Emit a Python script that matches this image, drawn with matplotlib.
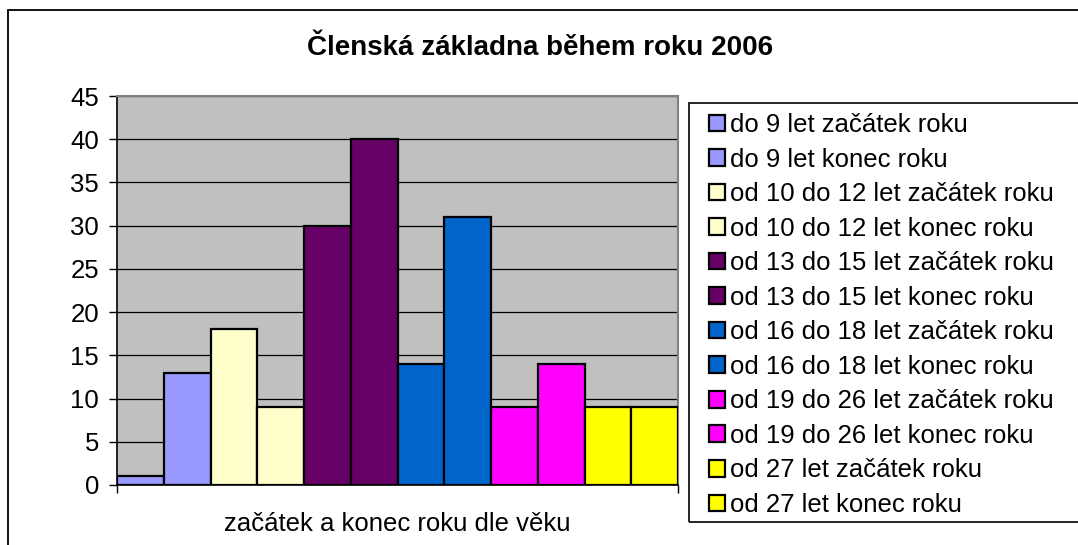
import matplotlib
matplotlib.use("Agg")
import matplotlib.pyplot as plt
from matplotlib.patches import Rectangle

plt.rcParams['font.family'] = ['Liberation Sans', 'DejaVu Sans']

series = ["do 9 let začátek roku", "do 9 let konec roku",
          "od 10 do 12 let začátek roku", "od 10 do 12 let konec roku",
          "od 13 do 15 let začátek roku", "od 13 do 15 let konec roku",
          "od 16 do 18 let začátek roku", "od 16 do 18 let konec roku",
          "od 19 do 26 let začátek roku", "od 19 do 26 let konec roku",
          "od 27 let začátek roku", "od 27 let konec roku"]
values = [1, 13, 18, 9, 30, 40, 14, 31, 9, 14, 9, 9]
colors = ["#9999FF", "#9999FF", "#FFFFCC", "#FFFFCC", "#660066", "#660066",
          "#0066CC", "#0066CC", "#FF00FF", "#FF00FF", "#FFFF00", "#FFFF00"]
yticks = [0, 5, 10, 15, 20, 25, 30, 35, 40, 45]
title = "Členská základna během roku 2006"
xlabel = "začátek a konec roku dle věku"

W, H = 1078, 545
FS = 18.5
fig = plt.figure(figsize=(W / 100, H / 100), dpi=100)
fig.patch.set_facecolor("white")

# outer chart frame
fig.add_artist(Rectangle((8 / W, -0.01), 1.2, 1 - 10 / H + 0.01, transform=fig.transFigure,
                         fill=False, edgecolor="black", lw=1.3))

ax = fig.add_axes([117 / W, 1 - 485 / H, (678 - 117) / W, (485 - 96) / H])
ax.set_facecolor("#C0C0C0")
handles = []
for i, (v, c, s) in enumerate(zip(values, colors, series)):
    b = ax.bar(i, v, width=1.0, color=c, edgecolor="black", linewidth=1.6, label=s, zorder=3)
    handles.append(b[0])
ax.set_xlim(-0.5, 11.5)
ax.set_ylim(0, 45)
ax.set_yticks(yticks)
ax.yaxis.grid(True, color="black", linewidth=0.9, zorder=1)
ax.set_xticks([-0.5, 11.5])
ax.set_xticklabels(["", ""])
ax.tick_params(axis="x", length=6, width=1, color="black", direction="out")
ax.tick_params(axis="y", length=6, width=1, labelsize=FS, pad=7)
for side in ["top", "right"]:
    ax.spines[side].set_color("#808080")
    ax.spines[side].set_linewidth(1.5)
for side in ["left", "bottom"]:
    ax.spines[side].set_color("black")
    ax.spines[side].set_linewidth(1.2)

fig.text(397 / W, 1 - 531 / H, xlabel, ha="center", va="baseline", fontsize=FS)
fig.text(540 / W, 1 - 55 / H, title, ha="center", va="baseline", fontsize=20, fontweight="bold")

# legend frame
fig.add_artist(Rectangle((689 / W, 1 - 522 / H), (1100 - 689) / W, (522 - 103) / H,
                         transform=fig.transFigure, fill=False, edgecolor="black", lw=1.2))
leg = fig.legend(handles=handles, labels=series, loc="upper left",
                 bbox_to_anchor=(709 / W, 1 - 113 / H),
                 frameon=False, borderaxespad=0, borderpad=0,
                 fontsize=FS, handlelength=0.62, handleheight=0.62, handletextpad=0.18,
                 labelspacing=0.41)
for p in leg.get_patches():
    p.set_linewidth(1.6)

fig.savefig("out.png", dpi=100)
